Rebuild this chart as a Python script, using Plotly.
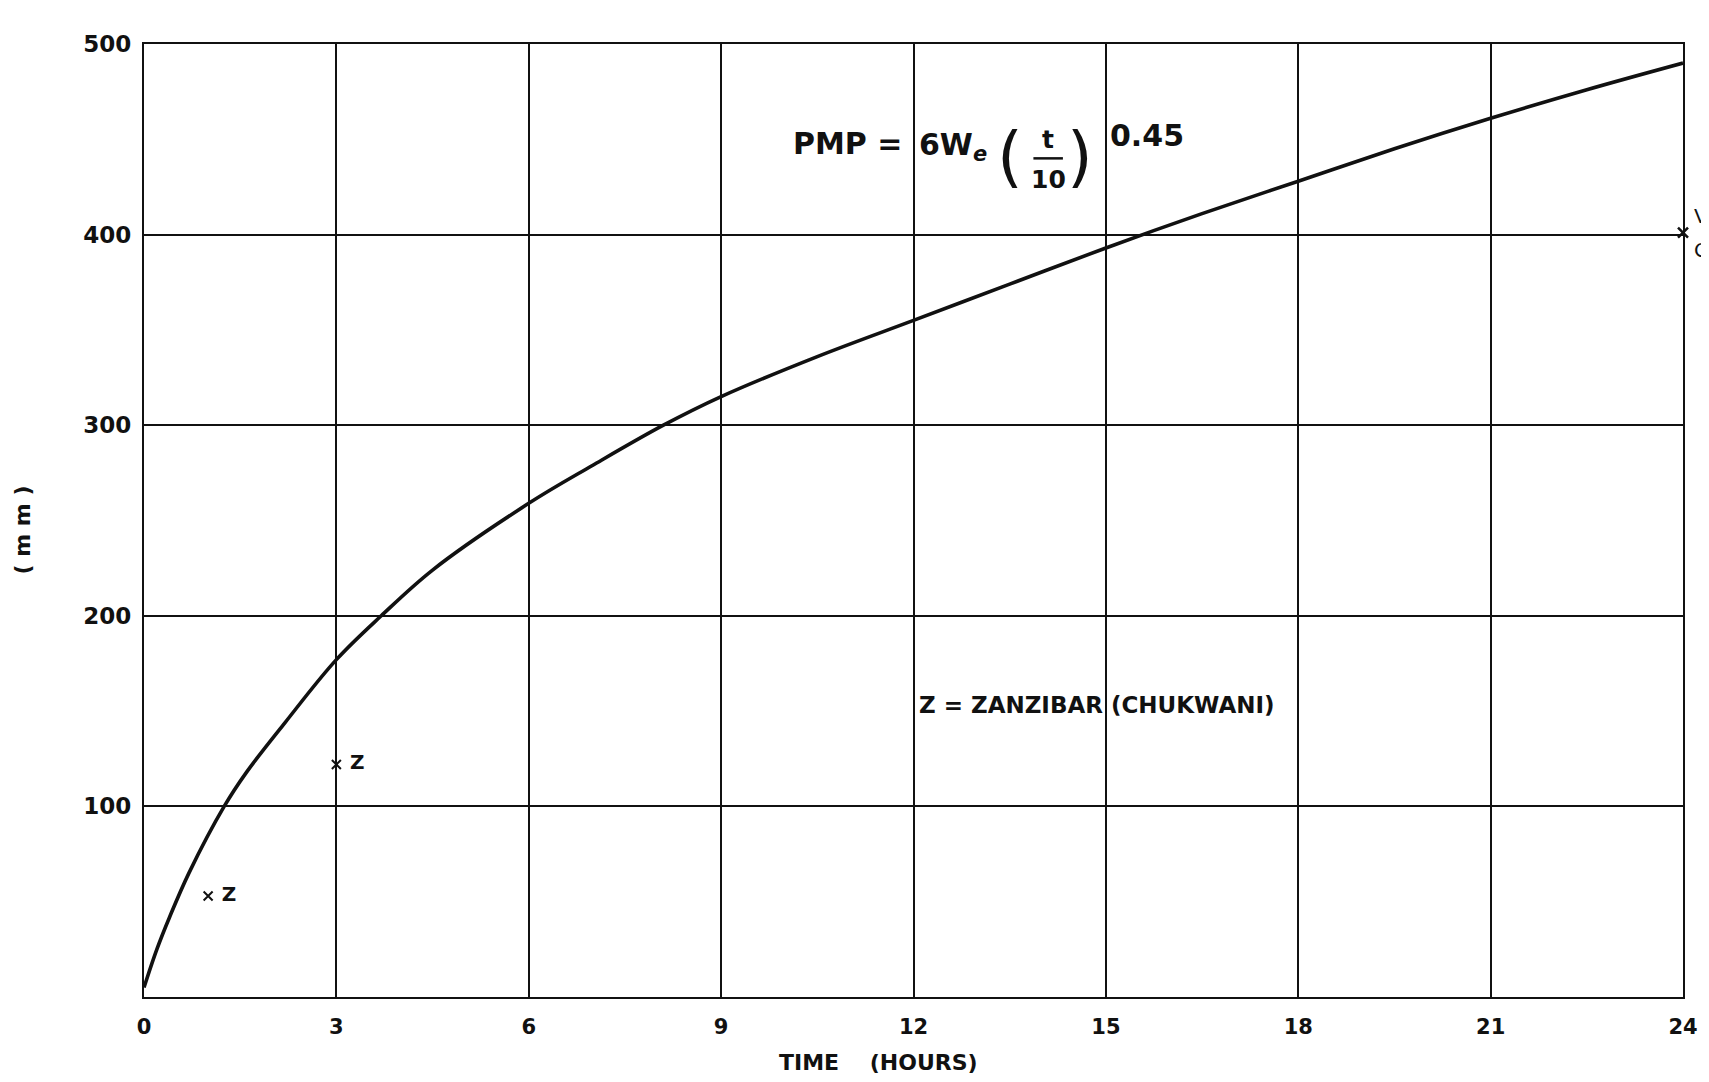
import plotly.graph_objects as go

# Curve: PMP depth (mm) against duration (hours)
curve_t = [0, 0.2, 0.4, 0.7, 1.25, 1.6, 2.2, 3, 3.7, 4.5, 6, 7, 8.1, 9,
           10.5, 12, 13.5, 15, 16.5, 18, 19.5, 21, 22.5, 24]
curve_mm = [5, 25, 42, 65, 100, 118, 144, 177, 200, 224, 259, 279, 300, 315,
            336, 355, 374, 393, 411, 428, 445, 461, 476, 490]

# Observed points
zanzibar_t = [1, 3]
zanzibar_mm = [53, 122]
edge_t = [24]
edge_mm = [401]

x_ticks = [0, 3, 6, 9, 12, 15, 18, 21, 24]
y_ticks = [100, 200, 300, 400, 500]

FONT = "DejaVu Sans"
BLACK = "#111111"

fig = go.Figure()
fig.add_trace(go.Scatter(x=curve_t, y=curve_mm, mode="lines",
                         line=dict(color=BLACK, width=3.6, shape="spline", smoothing=1.0),
                         hoverinfo="skip", showlegend=False))
fig.add_trace(go.Scatter(x=zanzibar_t, y=zanzibar_mm, mode="markers+text",
                         marker=dict(symbol="x-thin", size=9, line=dict(color=BLACK, width=2)),
                         text=["<b> Z</b>", "<b> Z</b>"], textposition="middle right",
                         textfont=dict(family=FONT, size=20, color=BLACK),
                         showlegend=False))
fig.add_trace(go.Scatter(x=edge_t, y=edge_mm, mode="markers",
                         marker=dict(symbol="x-thin", size=10, line=dict(color=BLACK, width=2.5)),
                         cliponaxis=False, showlegend=False))

ann = []
# axis titles
ann.append(dict(text="<b>TIME    (HOURS)</b>", x=0.477, y=-0.069, xref="paper", yref="paper",
                xanchor="center", yanchor="middle", showarrow=False,
                font=dict(family=FONT, size=22, color=BLACK)))
ann.append(dict(text="<b>( m m )</b>", x=-0.079, y=0.49, xref="paper", yref="paper",
                textangle=-90, xanchor="center", yanchor="middle", showarrow=False,
                font=dict(family=FONT, size=22, color=BLACK)))
# equation
eq_font = dict(family=FONT, size=30, color=BLACK)
ann.append(dict(text="<b>PMP =</b>", x=11.85, y=448, xanchor="right",
                yanchor="middle", showarrow=False, font=eq_font))
ann.append(dict(text="<b>6W<sub><i>e</i></sub></b>", x=12.05, y=446, xanchor="left",
                yanchor="middle", showarrow=False, font=eq_font))
ann.append(dict(text="(", x=13.5, y=441, xanchor="center", yanchor="middle",
                showarrow=False, font=dict(family=FONT, size=66, color=BLACK)))
ann.append(dict(text=")", x=14.6, y=441, xanchor="center", yanchor="middle",
                showarrow=False, font=dict(family=FONT, size=66, color=BLACK)))
ann.append(dict(text="<b>t</b>", x=14.1, y=450, xanchor="center", yanchor="middle",
                showarrow=False, font=dict(family=FONT, size=25, color=BLACK)))
ann.append(dict(text="<b>10</b>", x=14.1, y=429, xanchor="center", yanchor="middle",
                showarrow=False, font=dict(family=FONT, size=25, color=BLACK)))
ann.append(dict(text="<b>0.45</b>", x=15.03, y=452, xanchor="left", yanchor="middle",
                showarrow=False, font=eq_font))
ann.append(dict(text="<b>Z = ZANZIBAR (CHUKWANI)</b>", x=12.05, y=153, xanchor="left",
                yanchor="middle", showarrow=False,
                font=dict(family=FONT, size=23, color=BLACK)))
ann.append(dict(text="V", x=1.006, xref="paper", y=410, xanchor="left", yanchor="middle",
                showarrow=False, font=dict(family=FONT, size=20, color=BLACK)))
ann.append(dict(text="C", x=1.006, xref="paper", y=392, xanchor="left", yanchor="middle",
                showarrow=False, font=dict(family=FONT, size=20, color=BLACK)))

# the page body adds an 8 px offset, so the figure is sized and placed to compensate
fig.update_layout(
    width=1701, height=1074,
    margin=dict(l=136, r=26, t=36, b=85),
    paper_bgcolor="white", plot_bgcolor="white",
    annotations=ann,
    shapes=[dict(type="line", x0=13.87, x1=14.33, y0=440, y1=440,
                 line=dict(color=BLACK, width=2.5))],
)
fig.update_xaxes(range=[0, 24], tickvals=x_ticks, ticktext=[f"<b>{v}</b>" for v in x_ticks],
                 showgrid=True, gridcolor=BLACK, gridwidth=1.8, zeroline=False,
                 showline=True, linecolor=BLACK, linewidth=2.2, mirror=True,
                 ticks="", ticklabelstandoff=10,
                 tickfont=dict(family=FONT, size=21, color=BLACK))
fig.update_yaxes(range=[0, 500], tickvals=y_ticks, ticktext=[f"<b>{v}</b>" for v in y_ticks],
                 showgrid=True, gridcolor=BLACK, gridwidth=1.8, zeroline=False,
                 showline=True, linecolor=BLACK, linewidth=2.2, mirror=True,
                 ticks="", ticklabelstandoff=6,
                 tickfont=dict(family=FONT, size=23, color=BLACK))

fig.write_html("out.html")
